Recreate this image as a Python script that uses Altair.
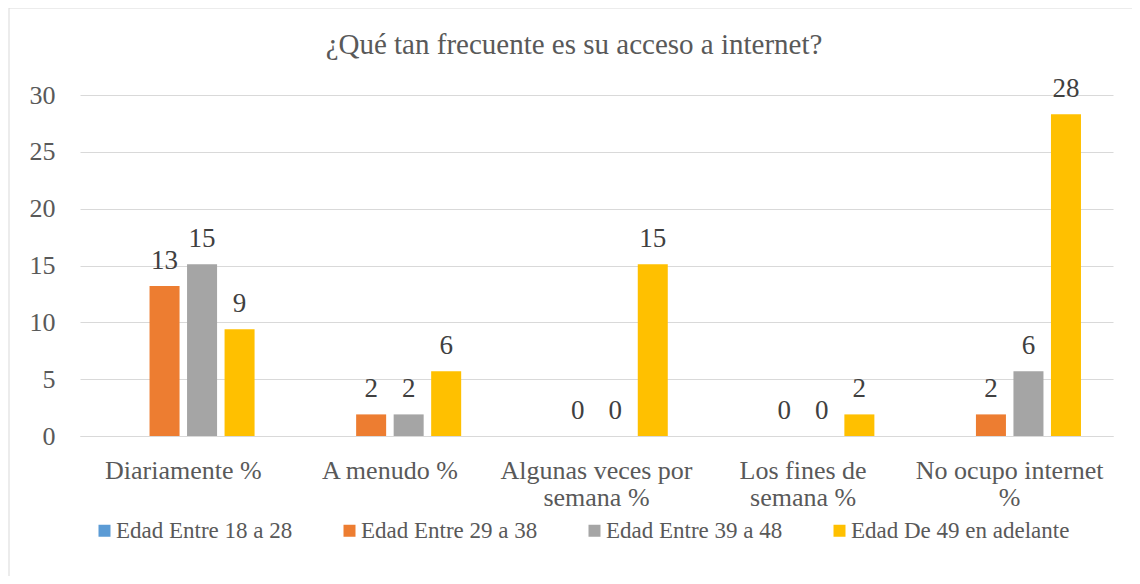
import altair as alt
import pandas as pd

categories = ["Diariamente %", "A menudo %", "Algunas veces por semana %",
              "Los fines de semana %", "No ocupo internet %"]
series = ["Edad Entre 18 a 28", "Edad Entre 29 a 38", "Edad Entre 39 a 48", "Edad De 49 en adelante"]
colors = ["#5B9BD5", "#ED7D31", "#A5A5A5", "#FFC000"]
s1 = [None, None, None, None, None]
s2 = [13.2, 1.9, 0, 0, 1.9]
s3 = [15.1, 1.9, 0, 0, 5.7]
s4 = [9.4, 5.7, 15.1, 1.9, 28.3]
y_ticks = [0, 5, 10, 15, 20, 25, 30]
title_text = "¿Qué tan frecuente es su acceso a internet?"

rows = []
for name, vals in zip(series, [s1, s2, s3, s4]):
    for c, v in zip(categories, vals):
        rows.append({"cat": c, "serie": name, "val": v})
df = pd.DataFrame(rows)

FONT = "Liberation Serif, Times New Roman, serif"

label_expr = (
    "datum.label == 'Algunas veces por semana %' ? ['Algunas veces por', 'semana %'] : "
    "datum.label == 'Los fines de semana %' ? ['Los fines de', 'semana %'] : "
    "datum.label == 'No ocupo internet %' ? ['No ocupo internet', '%'] : datum.label"
)

x_enc = alt.X("cat:N", sort=categories,
              scale=alt.Scale(paddingInner=0.31, paddingOuter=0.155),
              axis=alt.Axis(title=None, labelAngle=0, labelExpr=label_expr, ticks=False,
                            domainColor="#D9D9D9", domainWidth=1, labelPadding=21,
                            labelFont=FONT, labelFontSize=26, labelColor="#595959",
                            labelLineHeight=27, labelBaseline="top", grid=False,
                            labelLimit=400))
xo_enc = alt.XOffset("serie:N", sort=series,
                     scale=alt.Scale(domain=series, paddingInner=0.2, paddingOuter=0))
y_enc = alt.Y("val:Q", scale=alt.Scale(domain=[0, 30], nice=False),
              axis=alt.Axis(title=None, values=y_ticks, ticks=False, domain=False,
                            gridColor="#D9D9D9", gridWidth=1, labelPadding=25,
                            labelFont=FONT, labelFontSize=26, labelColor="#595959"))
color_enc = alt.Color("serie:N", sort=series,
                      scale=alt.Scale(domain=series, range=colors),
                      legend=alt.Legend(title=None, orient="none", legendX=13, legendY=424,
                                        direction="horizontal", columns=4, gridAlign="all",
                                        symbolType="square",
                                        symbolSize=144, symbolStrokeWidth=0, labelFont=FONT,
                                        labelFontSize=23, labelColor="#595959",
                                        columnPadding=3, labelOffset=0, labelLimit=400))

bars = alt.Chart(df).mark_bar().encode(x=x_enc, xOffset=xo_enc, y=y_enc, color=color_enc)

texts = alt.Chart(df).transform_filter("isValid(datum.val)").mark_text(
    font=FONT, fontSize=27, color="#404040", baseline="alphabetic", dy=-17
).encode(x=alt.X("cat:N", sort=categories), xOffset=alt.XOffset("serie:N", sort=series),
         y="val:Q", text=alt.Text("val:Q", format=".0f"))

border = alt.Chart(pd.DataFrame({"a": [0]})).mark_rect(
    fill=None, stroke="#D9D9D9", strokeWidth=1
).encode(x=alt.value(-71), x2=alt.value(1057), y=alt.value(-87), y2=alt.value(505))

title = alt.Chart(pd.DataFrame({"t": [title_text]})).mark_text(
    font=FONT, fontSize=29, color="#595959", align="center", baseline="middle"
).encode(x=alt.value(494), y=alt.value(-50), text="t:N")

chart = alt.layer(border, bars, texts, title).properties(
    width=1033, height=341,
    autosize=alt.AutoSizeParams(type="none"),
    padding={"left": 72, "top": 87, "right": 19, "bottom": 140},
    background="white",
).configure_view(stroke=None)

chart.save("out.html", embed_options={"renderer": "svg", "actions": False})
